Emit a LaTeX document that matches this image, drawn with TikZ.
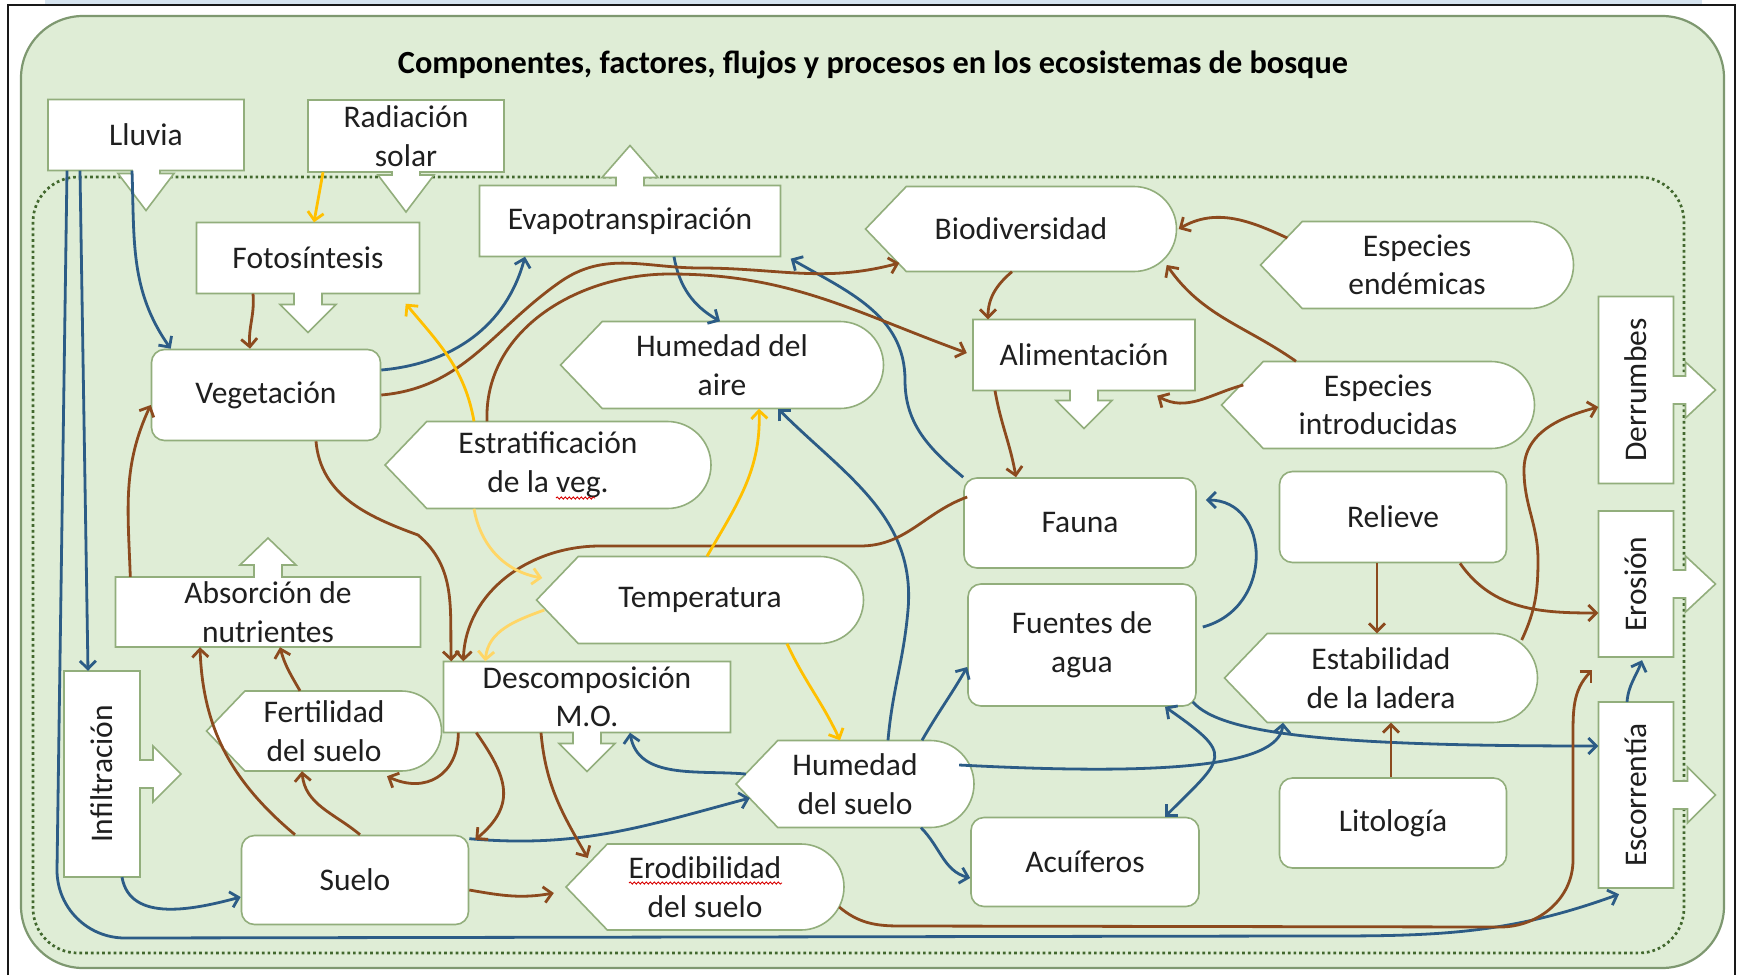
\documentclass[tikz,border=0pt]{standalone}
\usepackage{fontspec}
\setmainfont{Carlito}
\usepackage{graphicx}
\usetikzlibrary{arrows.meta,decorations.pathmorphing}

\definecolor{bggreen}{RGB}{223,237,214}
\definecolor{frameline}{RGB}{126,152,112}
\definecolor{nodeline}{RGB}{146,174,124}
\definecolor{dotgreen}{RGB}{66,104,46}
\definecolor{brn}{RGB}{140,74,30}
\definecolor{blu}{RGB}{44,92,134}
\definecolor{yel}{RGB}{255,192,0}
\definecolor{paleyel}{RGB}{255,214,102}
\definecolor{topblue}{RGB}{214,228,240}

\newcommand{\bodyfont}{\fontsize{31.5}{38.5}\selectfont}
\newcommand{\stemhw}{14}
\newcommand{\headhw}{28}

\tikzset{
  box/.style={draw=nodeline, fill=white, line width=1.6pt},
  txt/.style={inner sep=0pt, align=center, font=\bodyfont, text=black!88},
  roundbox/.style={box, txt, rounded corners=13pt},
  flow/.style={line width=2.8pt, ->},
  brownflow/.style={flow, brn},
  blueflow/.style={flow, blu},
  sunflow/.style={flow, yel},
  paleflow/.style={flow, paleyel},
  squiggle/.style={red!85!black, line width=0.9pt, decorate,
    decoration={snake, amplitude=1.1pt, segment length=4pt}}
}

% name, x, y, w, h, text : pointed left end, rounded right end
\newcommand{\dispnode}[6]{%
  \filldraw[box] ({#2-#4/2},#3) -- ({#2-#4/2+0.48*#5},{#3+#5/2})
    -- ({#2+#4/2-#5/2},{#3+#5/2})
    .. controls ({#2+#4/2-0.224*#5},{#3+#5/2}) and ({#2+#4/2},{#3+0.276*#5}) .. ({#2+#4/2},#3)
    .. controls ({#2+#4/2},{#3-0.276*#5}) and ({#2+#4/2-0.224*#5},{#3-#5/2}) .. ({#2+#4/2-#5/2},{#3-#5/2})
    -- ({#2-#4/2+0.48*#5},{#3-#5/2}) -- cycle;
  \node[txt, minimum width=#4pt, minimum height=#5pt] (#1) at (#2,#3) {#6};}

% name, x, y, w, h, stem, head, text : box with arrow below
\newcommand{\calldown}[8]{%
  \filldraw[box] ({#2-#4/2},{#3+#5/2}) -- ({#2+#4/2},{#3+#5/2}) -- ({#2+#4/2},{#3-#5/2})
    -- ({#2+\stemhw},{#3-#5/2}) -- ({#2+\stemhw},{#3-#5/2-#6}) -- ({#2+\headhw},{#3-#5/2-#6})
    -- (#2,{#3-#5/2-#6-#7}) -- ({#2-\headhw},{#3-#5/2-#6}) -- ({#2-\stemhw},{#3-#5/2-#6})
    -- ({#2-\stemhw},{#3-#5/2}) -- ({#2-#4/2},{#3-#5/2}) -- cycle;
  \node[txt, minimum width=#4pt, minimum height=#5pt] (#1) at (#2,#3) {#8};}

% box with arrow above
\newcommand{\callup}[8]{%
  \filldraw[box] ({#2-#4/2},{#3-#5/2}) -- ({#2+#4/2},{#3-#5/2}) -- ({#2+#4/2},{#3+#5/2})
    -- ({#2+\stemhw},{#3+#5/2}) -- ({#2+\stemhw},{#3+#5/2+#6}) -- ({#2+\headhw},{#3+#5/2+#6})
    -- (#2,{#3+#5/2+#6+#7}) -- ({#2-\headhw},{#3+#5/2+#6}) -- ({#2-\stemhw},{#3+#5/2+#6})
    -- ({#2-\stemhw},{#3+#5/2}) -- ({#2-#4/2},{#3+#5/2}) -- cycle;
  \node[txt, minimum width=#4pt, minimum height=#5pt] (#1) at (#2,#3) {#8};}

% upright box with arrow to the right, text turned
\newcommand{\callright}[8]{%
  \filldraw[box] ({#2+#4/2},{#3+#5/2}) -- ({#2-#4/2},{#3+#5/2}) -- ({#2-#4/2},{#3-#5/2})
    -- ({#2+#4/2},{#3-#5/2}) -- ({#2+#4/2},{#3-\stemhw}) -- ({#2+#4/2+#6},{#3-\stemhw})
    -- ({#2+#4/2+#6},{#3-\headhw}) -- ({#2+#4/2+#6+#7},#3) -- ({#2+#4/2+#6},{#3+\headhw})
    -- ({#2+#4/2+#6},{#3+\stemhw}) -- ({#2+#4/2},{#3+\stemhw}) -- cycle;
  \node[txt, minimum width=#4pt, minimum height=#5pt] (#1) at (#2,#3) {\rotatebox{90}{#8}};}

\begin{document}
\begin{tikzpicture}[x=1pt, y=1pt, >={Straight Barb[length=8pt,width=16pt]}]
  \useasboundingbox (0,0) rectangle (1741,-975);
  \fill[white] (0,0) rectangle (1741,-975);
  \fill[topblue] (45,0) rectangle (1702,-5);
  \draw[line width=2.5pt, black!90] (8,-975) -- (8,-5) -- (1735,-5) -- (1735,-975);
  \filldraw[fill=bggreen, draw=frameline, line width=2.2pt, rounded corners=62pt] (21,-16) rectangle (1724,-968);
  \draw[dotgreen, line width=2.7pt, dash pattern=on 2.7pt off 3pt, rounded corners=45pt] (33,-177) rectangle (1684,-953);

  \node[font=\fontsize{32.3}{38}\selectfont\bfseries] (titulo) at (873,-65)
    {Componentes, factores, flujos y procesos en los ecosistemas de bosque};

  % boxes
  \calldown{lluvia}{146}{-135}{196}{71}{3}{37}{Lluvia}
  \calldown{radiacion}{406}{-136}{196}{72}{3}{37}{Radiación\\solar}
  \calldown{fotosint}{308}{-258}{223}{71}{11}{28}{Fotosíntesis}
  \callup{evapo}{630}{-221}{301}{71}{8}{32}{Evapotranspiración}
  \calldown{aliment}{1084}{-355}{222}{71}{10}{28}{Alimentación}
  \callup{absorc}{268}{-612}{305}{70}{12}{27}{Absorción de\\nutrientes}
  \calldown{descomp}{587}{-697}{287}{71}{11}{28}{Descomposición\\M.O.}
  \callright{derrumbes}{1636}{-390}{75}{187}{12}{30}{Derrumbes}
  \callright{erosion}{1636}{-584}{75}{146}{12}{30}{Erosión}
  \callright{escorr}{1636}{-795}{75}{186}{14}{28}{Escorrentía}
  \callright{infilt}{102}{-774}{76}{206}{13}{28}{Infiltración}

  \dispnode{biodiv}{1021}{-229}{311}{85}{Biodiversidad}
  \dispnode{endem}{1417}{-265}{313}{87}{Especies\\endémicas}
  \dispnode{introd}{1378}{-405}{313}{87}{Especies\\introducidas}
  \dispnode{humaire}{722}{-365}{323}{87}{Humedad del\\aire}
  \dispnode{estrat}{548}{-465}{326}{87}{Estratificación\\de la veg.}
  \dispnode{temper}{700}{-600}{327}{87}{Temperatura}
  \dispnode{estab}{1381}{-678}{313}{89}{Estabilidad\\de la ladera}
  \dispnode{fertil}{324}{-731}{235}{80}{Fertilidad\\del suelo}
  \dispnode{humsuelo}{855}{-784}{238}{87}{Humedad\\del suelo}
  \dispnode{erodib}{705}{-887}{278}{86}{Erodibilidad\\del suelo}

  \node[roundbox, minimum width=229pt, minimum height=91pt] (veget) at (266,-395) {Vegetación};
  \node[roundbox, minimum width=232pt, minimum height=90pt] (fauna) at (1080,-523) {Fauna};
  \node[roundbox, minimum width=227pt, minimum height=91pt] (relieve) at (1393,-517) {Relieve};
  \node[roundbox, minimum width=228pt, minimum height=122pt] (fuentes) at (1082,-645) {Fuentes de\\agua};
  \node[roundbox, minimum width=227pt, minimum height=90pt] (litol) at (1393,-823) {Litología};
  \node[roundbox, minimum width=228pt, minimum height=89pt] (acuif) at (1085,-862) {Acuíferos};
  \node[roundbox, minimum width=227pt, minimum height=89pt] (suelo) at (355,-880) {Suelo};

  \draw[squiggle] ([xshift=-76pt,yshift=4pt]erodib.center) -- ([xshift=77pt,yshift=4pt]erodib.center);
  \draw[squiggle] ([xshift=8pt,yshift=-33pt]estrat.center) -- ([xshift=47pt,yshift=-33pt]estrat.center);

  % water
  \draw[blueflow] ([xshift=-14pt]lluvia.south) to[out=-88,in=125] ([xshift=20pt]veget.north west);
  \draw[blueflow] ([xshift=-66pt]lluvia.south) -- ([xshift=-14pt]infilt.north);
  \draw[blueflow] ([xshift=-79pt]lluvia.south) -- (57,-870) to[out=-90,in=180] (125,-938) -- (1300,-936)
    to[out=0,in=-160] ([xshift=-17pt,yshift=-6pt]escorr.south);
  \draw[blueflow] ([xshift=20pt]infilt.south) to[out=-80,in=195] ([yshift=-17pt]suelo.west);
  \draw[blueflow] ([yshift=25pt]veget.east) to[out=5,in=-105] ([xshift=-105pt]evapo.south);
  \draw[blueflow] ([xshift=44pt]evapo.south) to[out=-80,in=150] ([xshift=-2pt]humaire.north);
  \draw[blueflow] (fauna.north west) to[out=140,in=-90] (905,-380) to[out=90,in=-30] ([xshift=10pt,yshift=-2pt]evapo.south east);
  \draw[blueflow] ([xshift=33pt]humsuelo.north) to[out=85,in=-95] (908,-610) to[out=85,in=-45] ([xshift=56pt]humaire.south);
  \draw[blueflow] ([xshift=10pt,yshift=10pt]humsuelo.west) to[out=175,in=-80] ([xshift=43pt]descomp.south);
  \draw[blueflow] ([yshift=-4pt]suelo.north east) to[out=-5,in=195] ([xshift=14pt,yshift=-14pt]humsuelo.west);
  \draw[blueflow] ([xshift=67pt]humsuelo.north) to[out=60,in=-120] ([yshift=-22pt]fuentes.west);
  \draw[blueflow] ([xshift=66pt]humsuelo.south) to[out=-45,in=165] ([yshift=-16pt]acuif.west);
  \draw[blueflow] ([xshift=-15pt,yshift=19pt]humsuelo.east) to[out=-3,in=-95,out distance=200pt,in distance=45pt] ([xshift=-98pt]estab.south);
  \draw[blueflow] ([xshift=6pt,yshift=18pt]fuentes.east) to[out=15,in=0,out distance=75pt,in distance=65pt] ([xshift=9pt,yshift=23pt]fauna.east);
  \draw[blueflow, <->] ([xshift=83pt]fuentes.south) to[out=-35,in=45,looseness=2] ([xshift=80pt]acuif.north);
  \draw[blueflow] ([xshift=-4pt,yshift=5pt]fuentes.south east) to[out=-50,in=180,out distance=45pt,in distance=250pt] ([yshift=49pt]escorr.west);
  \draw[blueflow] ([xshift=-9pt]escorr.north) to[out=85,in=-110] ([xshift=6pt,yshift=-3pt]erosion.south);

  % matter
  \draw[brownflow] ([xshift=-55pt]fotosint.south) to[out=-85,in=95] ([xshift=-16pt]veget.north);
  \draw[brownflow] (veget.east) to[out=5,in=215] (560,-282) to[out=35,in=180] (700,-268) to[out=0,in=195] ([xshift=34pt,yshift=-34pt]biodiv.west);
  \draw[brownflow] ([xshift=-61pt]estrat.north) to[out=92,in=180] (670,-274) to[out=0,in=160] ([xshift=-6pt,yshift=2pt]aliment.west);
  \draw[brownflow] ([xshift=50pt]veget.south) to[out=-85,in=160] (418,-535) to[out=-40,in=92] ([xshift=8pt]descomp.north west);
  \draw[brownflow] ([xshift=4pt,yshift=26pt]fauna.west) to[out=200,in=0] (860,-546) -- (600,-546) to[out=180,in=88] ([xshift=20pt]descomp.north west);
  \draw[brownflow] ([xshift=-9pt]biodiv.south) to[out=-140,in=90] ([xshift=-96pt]aliment.north);
  \draw[brownflow] ([xshift=27pt,yshift=27pt]endem.west) to[out=155,in=30] ([xshift=2pt]biodiv.east);
  \draw[brownflow] ([xshift=-82pt]introd.north) to[out=145,in=-55] ([xshift=-10pt,yshift=-36pt]biodiv.east);
  \draw[brownflow] ([xshift=22pt,yshift=20pt]introd.west) to[out=195,in=-30] ([xshift=-38pt,yshift=-5pt]aliment.south east);
  \draw[brownflow] ([xshift=-89pt]aliment.south) to[out=-80,in=100] ([xshift=-64pt]fauna.north);
  \draw[brownflow] ([xshift=-16pt]relieve.south) -- ([xshift=-4pt]estab.north);
  \draw[brownflow] ([xshift=67pt]relieve.south) to[out=-55,in=180] ([yshift=-29pt]erosion.west);
  \draw[brownflow] ([xshift=-2pt]litol.north) -- ([xshift=10pt]estab.south);
  \draw[brownflow] ([xshift=-16pt,yshift=38pt]estab.east) to[out=65,in=-90] (1538,-560) to[out=90,in=-90] (1524,-470)
    to[out=90,in=195] ([yshift=-17pt]derrumbes.west);
  \draw[brownflow] ([xshift=-5pt,yshift=-20pt]erodib.east) to[out=-40,in=180] (900,-926) -- (1500,-927)
    to[out=0,in=-90] (1573,-860) -- (1573,-740) to[out=90,in=-135] ([xshift=-6pt,yshift=-13pt]erosion.south west);
  \draw[brownflow] ([xshift=15pt]absorc.north west) to[out=92,in=-115] ([yshift=-10pt]veget.west);
  \draw[brownflow] ([xshift=-60pt]suelo.north) to[out=140,in=-88] ([xshift=-68pt]absorc.south);
  \draw[brownflow] ([xshift=-24pt]fertil.north) to[out=120,in=-75] ([xshift=12pt]absorc.south);
  \draw[brownflow] ([xshift=5pt]suelo.north) to[out=140,in=-85] ([xshift=-22pt]fertil.south);
  \draw[brownflow] ([xshift=15pt]descomp.south west) to[out=-90,in=-25,looseness=1.3] ([xshift=63pt,yshift=-5pt]fertil.south);
  \draw[brownflow] ([xshift=33pt]descomp.south west) to[out=-55,in=40,looseness=1.3] ([xshift=6pt,yshift=-5pt]suelo.north east);
  \draw[brownflow] ([xshift=-46pt]descomp.south) to[out=-85,in=120] ([xshift=22pt,yshift=29pt]erodib.west);
  \draw[brownflow] ([yshift=-10pt]suelo.east) to[out=-10,in=190] ([xshift=-12pt,yshift=-6pt]erodib.west);

  % energy
  \draw[sunflow] ([xshift=-83pt]radiacion.south) to[out=-100,in=80] ([xshift=6pt]fotosint.north);
  \draw[sunflow] ([xshift=-74pt]estrat.north) to[out=100,in=-50] ([xshift=-14pt,yshift=-10pt]fotosint.south east);
  \draw[paleflow] ([xshift=-74pt]estrat.south) to[out=-80,in=170] ([xshift=6pt,yshift=22pt]temper.west);
  \draw[paleflow] ([xshift=8pt,yshift=-10pt]temper.west) to[out=200,in=85] ([xshift=42pt]descomp.north west);
  \draw[sunflow] ([xshift=7pt]temper.north) to[out=60,in=-88] ([xshift=37pt]humaire.south);
  \draw[sunflow] ([xshift=87pt]temper.south) to[out=-65,in=115] ([xshift=-15pt]humsuelo.north);
\end{tikzpicture}
\end{document}
